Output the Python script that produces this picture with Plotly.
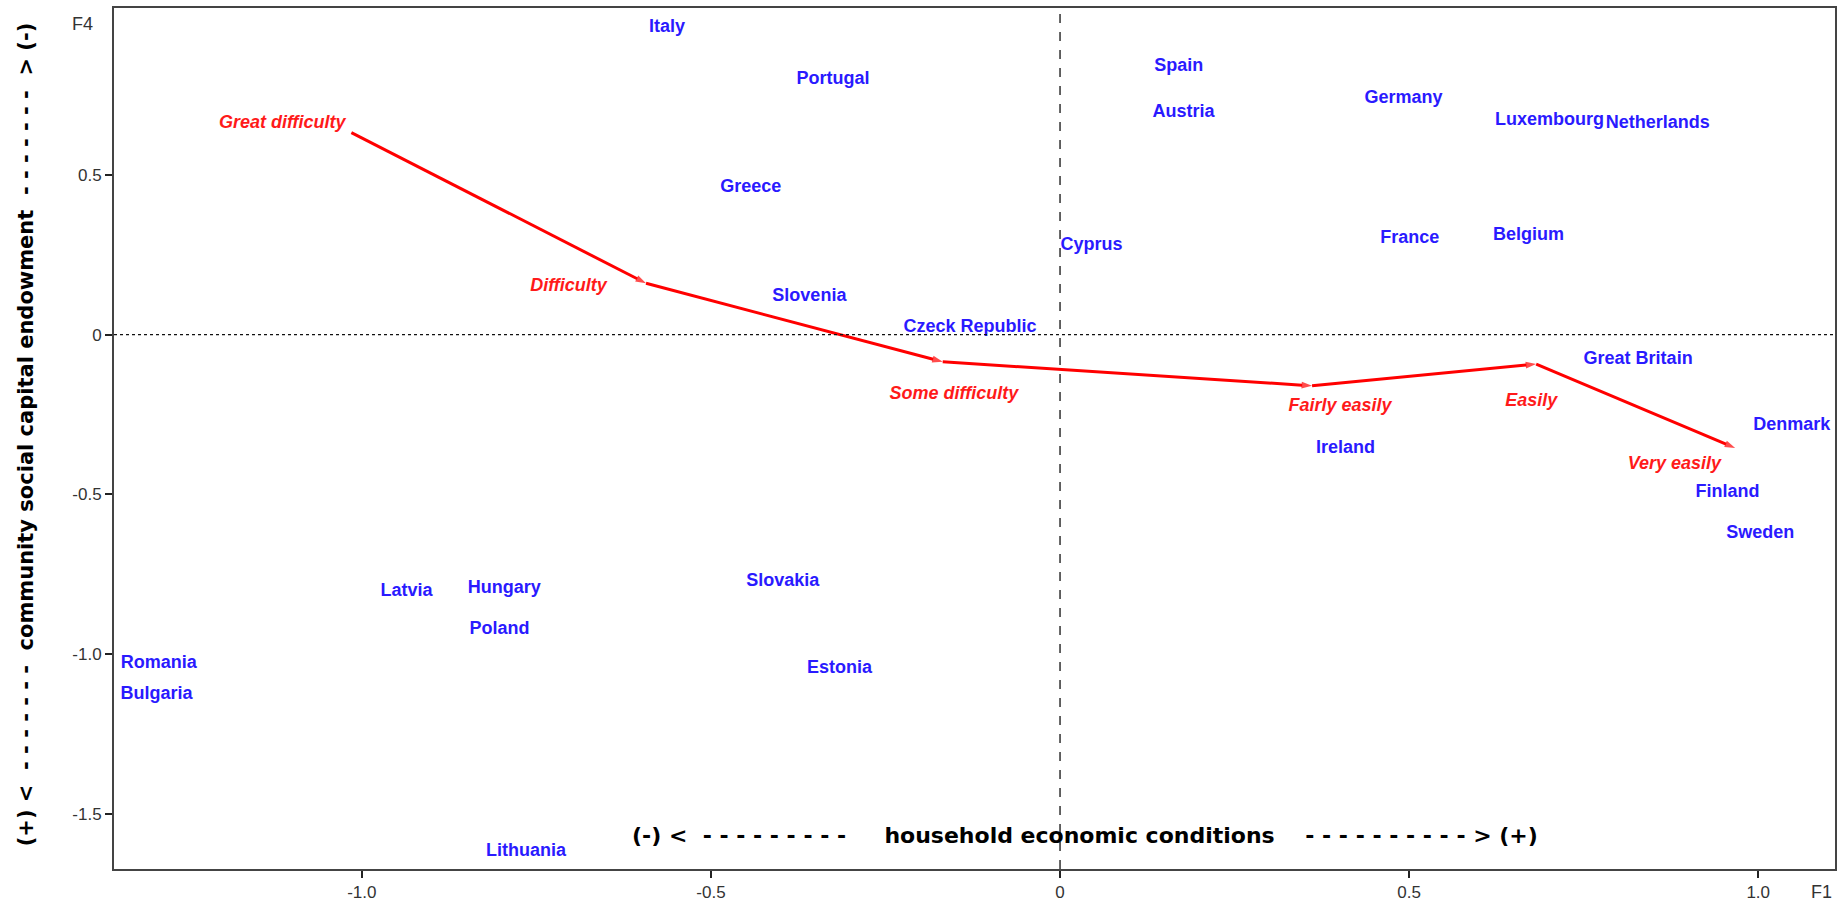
import plotly.graph_objects as go

# ---- data ----
countries = ["Italy", "Portugal", "Spain", "Austria", "Germany", "Luxembourg", "Netherlands",
             "Greece", "Cyprus", "France", "Belgium", "Slovenia", "Czeck Republic",
             "Great Britain", "Ireland", "Denmark", "Finland", "Sweden", "Latvia", "Hungary",
             "Slovakia", "Poland", "Estonia", "Romania", "Bulgaria", "Lithuania"]
country_f1 = [-0.563, -0.325, 0.170, 0.177, 0.492, 0.701, 0.856,
              -0.443, 0.045, 0.501, 0.671, -0.359, -0.129,
              0.828, 0.409, 1.048, 0.956, 1.003, -0.936, -0.796,
              -0.397, -0.803, -0.316, -1.291, -1.294, -0.765]
country_f4 = [0.961, 0.800, 0.840, 0.697, 0.741, 0.671, 0.660,
              0.462, 0.279, 0.302, 0.312, 0.121, 0.022,
              -0.077, -0.357, -0.285, -0.493, -0.621, -0.803, -0.796,
              -0.774, -0.924, -1.046, -1.028, -1.126, -1.618]

categories = ["Great difficulty", "Difficulty", "Some difficulty", "Fairly easily", "Easily", "Very easily"]
cat_f1 = [-1.015, -0.593, -0.168, 0.361, 0.682, 0.967]
cat_f4 = [0.633, 0.161, -0.085, -0.160, -0.092, -0.355]
cat_label_f1 = [-1.114, -0.704, -0.152, 0.401, 0.675, 0.880]
cat_label_f4 = [0.660, 0.150, -0.187, -0.224, -0.208, -0.405]

xtick_vals = [-1.0, -0.5, 0, 0.5, 1.0]
xtick_text = ["-1.0", "-0.5", "0", "0.5", "1.0"]
ytick_vals = [0.5, 0, -0.5, -1.0, -1.5]
ytick_text = ["0.5", "0", "-0.5", "-1.0", "-1.5"]

NB = "\u00a0"


def dashes(n):
    return NB.join(["-"] * n)


x_title = ("(-)" + NB + "<" + NB * 2 + dashes(9) + NB * 5 + "household economic conditions"
           + NB * 4 + dashes(10) + NB + ">" + NB + "(+)")
y_title = ("(+)" + NB + "<" + NB * 2 + dashes(7) + NB * 2 + "community social capital endowment"
           + NB * 2 + dashes(7) + NB * 2 + ">" + NB + "(-)")

label_font = "Liberation Sans, Arial, sans-serif"
title_font = "DejaVu Sans, sans-serif"

fig = go.Figure()

# reference lines at 0
fig.add_hline(y=0, line=dict(color="#111", width=1.3, dash="dot"))
fig.add_vline(x=0, line=dict(color="#111", width=1.3, dash="dash"))

# category path with arrows
fig.add_trace(go.Scatter(
    x=cat_f1, y=cat_f4, mode="lines+markers",
    line=dict(color="#ff0000", width=3),
    marker=dict(symbol="arrow", angleref="previous", size=[0] + [11] * (len(cat_f1) - 1),
                color="#ff0000", line=dict(width=0)),
    hoverinfo="skip", showlegend=False))

# category labels
fig.add_trace(go.Scatter(
    x=cat_label_f1, y=cat_label_f4, mode="text", text=categories,
    textfont=dict(family=label_font, size=18, color="#ff1a1a", style="italic", weight="bold"),
    textposition="middle center", hoverinfo="skip", showlegend=False))

# country labels
fig.add_trace(go.Scatter(
    x=country_f1, y=country_f4, mode="text", text=countries,
    textfont=dict(family=label_font, size=18, color="#2a1aff", weight="bold"),
    textposition="middle center", hoverinfo="skip", showlegend=False))

axis_common = dict(showline=True, linecolor="#444", linewidth=2, mirror=True,
                   showgrid=False, zeroline=False, ticks="outside", ticklen=7,
                   tickcolor="#222", tickwidth=1.5,
                   tickfont=dict(family=label_font, size=17, color="#333"))

fig.update_layout(
    width=1848, height=908,
    margin=dict(l=114, r=13, t=6, b=36),
    paper_bgcolor="white", plot_bgcolor="white",
    xaxis=dict(range=[-1.355, 1.110], tickmode="array", tickvals=xtick_vals, ticktext=xtick_text, **axis_common),
    yaxis=dict(range=[-1.673, 1.023], tickmode="array", tickvals=ytick_vals, ticktext=ytick_text, **axis_common),
    annotations=[
        dict(text=x_title, xref="paper", yref="paper", x=0.564, y=0.039, xanchor="center", yanchor="middle",
             showarrow=False, font=dict(family=title_font, size=22, color="black", weight="bold")),
        dict(text=y_title, xref="paper", yref="paper", x=-0.0511, y=0.505, xanchor="center", yanchor="middle",
             textangle=-90, showarrow=False, font=dict(family=title_font, size=21, color="black", weight="bold")),
        dict(text="F4", xref="paper", yref="paper", x=-0.011, y=0.981, xanchor="right", yanchor="middle",
             showarrow=False, font=dict(family=label_font, size=18, color="#333")),
        dict(text="F1", xref="paper", yref="paper", x=0.992, y=-0.0266, xanchor="center", yanchor="middle",
             showarrow=False, font=dict(family=label_font, size=18, color="#333")),
    ],
)

fig.write_html("out.html")
